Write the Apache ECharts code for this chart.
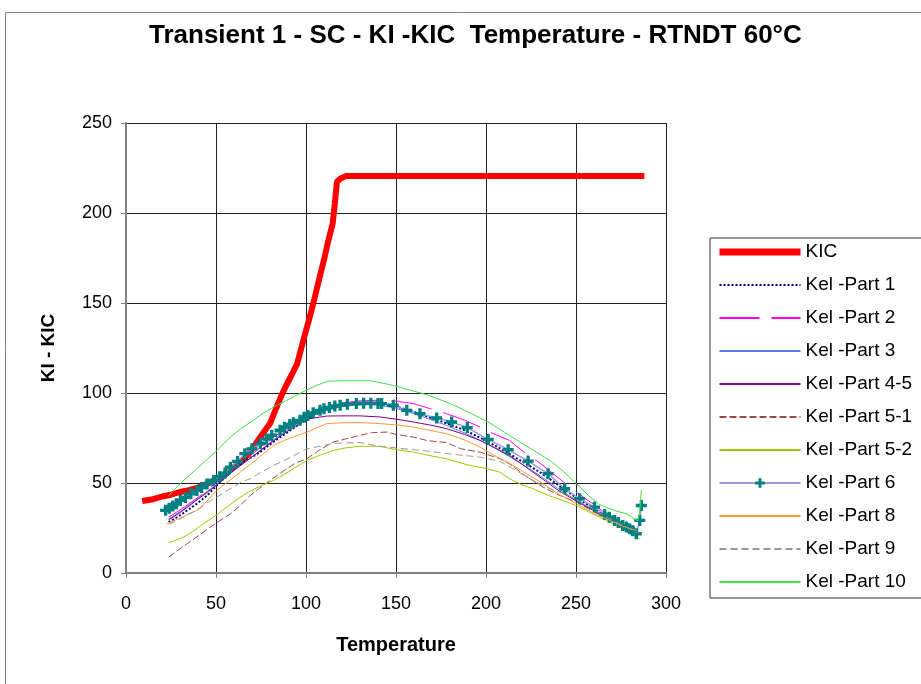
<!DOCTYPE html>
<html>
<head>
<meta charset="utf-8">
<script src="https://cdn.jsdelivr.net/npm/echarts@6/dist/echarts.min.js"></script>
<style>
html,body{margin:0;padding:0;background:#fff;}
#chart{width:921px;height:684px;}
</style>
</head>
<body>
<div id="chart"></div>
<script>
// ---- data: [Temperature, K] pairs ----
const xTicks = [0, 50, 100, 150, 200, 250, 300];
const yTicks = [0, 50, 100, 150, 200, 250];

const kic = [[9,40],[15,41],[20,42.5],[25,43.5],[30,45],[35,46],[40,47.5],[45,49.5],[50,52],[55,55],[60,59],[64,62],[68,66],[74.6,75.5],[80,83],[84,93],[87,100],[89.4,105],[92,110],[95,116],[99,131],[102,142],[104.6,152],[107,162],[110,174],[112,183],[114.8,194],[116,205],[117.2,217.4],[119,219],[122,220.5],[150,220.5],[200,220.5],[250,220.5],[288,220.5]];

const part1 = [[23.7,28.3],[30,32],[39.4,38.5],[45,43],[50.5,48.7],[57,55],[63.5,60.7],[70,64.5],[74.6,67.2],[82,73],[88,77],[96.7,83],[104,87.5],[110,90.5],[118,92.5],[126,93.5],[134,94],[142,93.8],[150,92.5],[160,89.5],[170,86],[180,82.5],[190,78.5],[200,73.5],[210,68],[220,62],[230,56],[240,49],[250,42],[260,36],[268,30.5],[275,26.5],[280,24],[284,22]];

const part2 = [[23.7,31],[30,35],[40,42],[50,50],[60,58],[70,66],[80,74],[90,81],[100,87.5],[110,92],[120,94.5],[130,95.6],[140,96],[150,95.5],[159.6,94.1],[170,91],[178,88.5],[188,85],[196.6,81.1],[205,77],[213,73.7],[220,68],[230,61],[240,53],[250,45],[260,38],[268,32],[275,27.5],[280,25],[284,23]];

const part3 = [[23.7,30],[30,34],[40,41.5],[50,49],[60,57],[70,64.5],[80,72.5],[90,80],[100,86],[110,90],[120,92.5],[130,93.5],[140,93.3],[150,91.5],[160,88.5],[170,85],[178,82],[190,77],[200.3,71.9],[210,66.5],[220,60.5],[230,54],[240,47],[250,40.5],[260,35],[268,30],[275,26.5],[280,24],[284,22]];

const part45 = [[23.7,29.5],[30,33.5],[40,41],[50,48.5],[60,57],[70,64.5],[80,72],[90,79],[100.4,85.5],[111.6,87.2],[120,87.3],[130,87.3],[141,86.7],[150,85.5],[159.6,83.9],[170,82],[178,80.2],[188,77],[196.6,73.7],[205,69.5],[213,65.3],[222,59],[231.7,52],[240,46],[250,40],[260,34.5],[268,30],[275,26.5],[280,24.5],[284,22.5]];

const part51 = [[23.7,8.8],[28,12],[33.9,16.2],[40,20.5],[46.8,25.5],[52,29],[58,32.9],[63,37],[68,42.2],[74,47],[80,51.4],[88,57],[94,61],[100.5,63.5],[107,68],[115,72.7],[122,74.5],[130,76.5],[137,78],[145,78.3],[150,77],[159.6,75.5],[167.6,73.5],[178,72.5],[186,69],[196.6,67.2],[207.7,63.5],[213,60.7],[222,54],[231.7,47.7],[240,43.5],[250.2,39.4],[260,34],[268,30],[275,26.5],[280,24.5],[284,23]];

const part52 = [[23.7,16.8],[27,18],[32,19.9],[37,23],[43,27.4],[50,32],[56,36.6],[62,41],[68,45],[75,48.5],[82,51.4],[90,56],[100.5,62.6],[108,65.5],[115,68.1],[122,69.5],[130,70.4],[141,70.4],[150,68.5],[159.6,67.2],[170,65],[178,63.5],[190,60],[200.3,58],[207.7,56],[213,52.4],[220,49],[226.2,46.8],[235,43],[250.2,37.5],[260,32.5],[266.9,29.2],[275,25],[280,22],[285.4,19]];

const part6 = [[22,34.8],[24,36],[26,37.2],[28,38.5],[30.2,40.3],[33,42],[36,44],[39.4,45.9],[42,47.5],[45,49.5],[48.7,51.4],[52,53.5],[55,55.5],[58,58.8],[62,62],[66,66.3],[70,69],[74.6,71.9],[78,74.5],[81,76.5],[85.6,79.3],[88,81],[91,82.5],[93,83.5],[96.7,84.8],[99,86.5],[101,87.5],[104,89],[107.8,90.4],[110,91.3],[113,92],[116,92.8],[119,93.2],[123,93.8],[128,94.1],[132,94.3],[136,94.3],[140,94.2],[142,94.1],[148.5,93.2],[156,90.4],[163.3,88.5],[172.6,86.1],[180.9,83.9],[189.6,80.8],[201.2,74.2],[212.3,68.5],[223.4,62.2],[234.5,55.2],[243.7,46.8],[252,41.3],[260.3,36.6],[266,32.5],[268.5,31],[271.5,29.2],[273.5,28],[276,26.4],[278,25.5],[279.8,24.6],[281.5,23.5],[283.5,21.8],[285.4,29.2],[286.3,37.5]];

const part8 = [[22.8,27.4],[30,30.5],[39.4,34.8],[45,40],[50.5,45.9],[57,51],[63.5,56],[67,58.8],[73,63.5],[82,70.9],[90,74.5],[100.5,78.3],[111.6,83],[120,83.5],[130,83.6],[141,83],[150,82.3],[159.6,81.1],[170,79],[178,77.4],[188,74],[196.6,70],[205,65],[213,61],[222,55.5],[231.7,49.6],[240,44],[250.2,38.5],[260,33],[268.8,29.2],[276,26],[283.5,23.6]];

const part9 = [[23.7,27],[30,30],[35,33],[40,35],[45,39],[50.5,42.2],[55,45],[60,48],[64,50.5],[69,52.4],[75,56],[82,59.8],[90,63.5],[100.5,69],[108,70.5],[115,71.9],[122,72.3],[130,72.5],[141,70.4],[150,69.5],[159.6,68.5],[170,67.5],[178,66.3],[188,65.3],[196.6,64.4],[207.7,62],[215,58],[225,52],[235,47],[243.7,44],[250,41],[260,35.5],[268,30.5],[275,27],[280,24.5],[284,22.5]];

const part10 = [[23.7,43],[30,49.6],[39.4,58],[49.6,67.2],[58,75.5],[63.5,80],[71,85],[75,88],[82,92.2],[93,97.8],[100,101.5],[106,104.3],[112,106.5],[117,106.8],[130,106.8],[136,106.8],[145,105],[151,103.5],[160,101],[167.6,98.9],[178,95],[184,92.4],[192,88.5],[201,84],[213,76.5],[225,69],[235.4,62.6],[243,56.5],[250.2,49.6],[257,43],[263,38],[272,34.5],[278,32.9],[284.4,29],[285.5,35],[286.3,46]];

const seriesNames = ['KIC','Kel -Part 1','Kel -Part 2','Kel -Part 3','Kel -Part 4-5','Kel -Part 5-1','Kel -Part 5-2','Kel -Part 6','Kel -Part 8','Kel -Part 9','Kel -Part 10'];
const seriesData = [kic, part1, part2, part3, part45, part51, part52, part6, part8, part9, part10];

// ---- styles ----
const styles = [
  {color:'#ff0000', width:6, type:'solid'},
  {color:'#000080', width:2, type:'dotted'},
  {color:'#ff00ff', width:1, type:[40,12]},
  {color:'#5b7bf0', width:1, type:'solid'},
  {color:'#800080', width:1, type:'solid'},
  {color:'#a04848', width:1, type:[7,3]},
  {color:'#99cc00', width:1, type:'solid'},
  {color:'#9999dd', width:1.5, type:'solid'},
  {color:'#ff9933', width:1, type:'solid'},
  {color:'#999999', width:1, type:[7,4]},
  {color:'#44e044', width:1, type:'solid'}
];
const plusPath = 'path://M3.5,0H6.5V3.5H10V6.5H6.5V10H3.5V6.5H0V3.5H3.5Z';

const FONT = 'Liberation Sans, Arial, sans-serif';

const series = seriesNames.map((name, i) => {
  const s = styles[i];
  const isP6 = name === 'Kel -Part 6';
  return {
    name: name,
    type: 'line',
    data: seriesData[i],
    smooth: false,
    symbol: isP6 ? plusPath : 'none',
    symbolSize: isP6 ? 11 : 0,
    showSymbol: isP6,
    showAllSymbol: true,
    lineStyle: {color: s.color, width: s.width, type: s.type},
    itemStyle: {color: isP6 ? '#008080' : s.color},
    emphasis: {disabled: true},
    z: 2 + i
  };
});

const legendData = seriesNames.map((name, i) => {
  const item = {name: name};
  if (name !== 'Kel -Part 6') item.itemStyle = {opacity: 0};
  if (name === 'KIC') item.lineStyle = {width: 7};
  return item;
});

const chart = echarts.init(document.getElementById('chart'), null, {renderer: 'canvas'});
chart.setOption({
  animation: false,
  backgroundColor: '#ffffff',
  title: {
    text: 'Transient 1 - SC - KI -KIC  Temperature - RTNDT 60°C',
    left: 144,
    top: 18,
    textStyle: {fontFamily: FONT, fontWeight: 'bold', fontSize: 26, color: '#000'}
  },
  graphic: [{
    type: 'rect', silent: true,
    shape: {x: 5.5, y: 12.5, width: 940, height: 700},
    style: {fill: null, stroke: '#808080', lineWidth: 1}
  }],
  grid: {left: 126, top: 123, width: 540, height: 450, containLabel: false},
  legend: {
    orient: 'vertical',
    left: 710,
    top: 238,
    padding: [4, 40, 6, 6],
    itemWidth: 81,
    itemHeight: 12,
    itemGap: 13,
    borderColor: '#333',
    borderWidth: 1,
    textStyle: {fontFamily: FONT, fontSize: 19, color: '#000', lineHeight: 20},
    data: legendData
  },
  xAxis: {
    type: 'value', min: 0, max: 300, interval: 50,
    name: 'Temperature', nameLocation: 'middle', nameGap: 62,
    nameTextStyle: {fontFamily: FONT, fontWeight: 'bold', fontSize: 20, color: '#000'},
    axisLine: {show: true, onZero: false, lineStyle: {color: '#808080', width: 2}},
    axisTick: {show: true, length: 5, lineStyle: {color: '#808080'}},
    axisLabel: {fontFamily: FONT, fontSize: 18, color: '#000', margin: 22,
      formatter: v => xTicks.includes(v) ? String(v) : ''},
    splitLine: {show: true, lineStyle: {color: '#222', width: 1}}
  },
  yAxis: {
    type: 'value', min: 0, max: 250, interval: 50,
    name: 'KI - KIC', nameLocation: 'middle', nameGap: 68,
    nameTextStyle: {fontFamily: FONT, fontWeight: 'bold', fontSize: 19, color: '#000'},
    axisLine: {show: true, onZero: false, lineStyle: {color: '#808080', width: 2}},
    axisTick: {show: true, length: 5, lineStyle: {color: '#808080'}},
    axisLabel: {fontFamily: FONT, fontSize: 18, color: '#000', margin: 14,
      formatter: v => yTicks.includes(v) ? String(v) : ''},
    splitLine: {show: true, lineStyle: {color: '#222', width: 1}}
  },
  series: series
});
</script>
</body>
</html>
